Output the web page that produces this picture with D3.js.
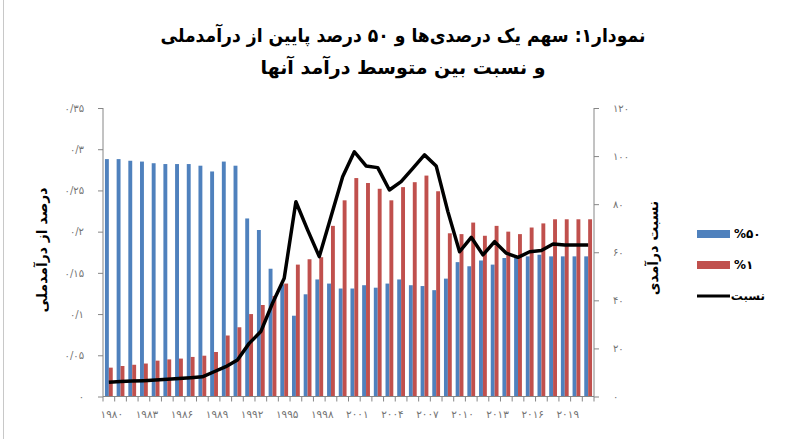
<!DOCTYPE html>
<html>
<head>
<meta charset="utf-8">
<script src="https://cdn.jsdelivr.net/npm/d3@7"></script>
<style>
  body { margin: 0; background: #fff; }
  text { font-family: "DejaVu Sans", sans-serif; }
</style>
</head>
<body>
<div id="chart"></div>
<script>
// categories
const years = [1980,1981,1982,1983,1984,1985,1986,1987,1988,1989,
  1990,1991,1992,1993,1994,1995,1996,1997,1998,1999,
  2000,2001,2002,2003,2004,2005,2006,2007,2008,2009,
  2010,2011,2012,2013,2014,2015,2016,2017,2018,2019,2020,2021];

// share of bottom 50%
const share50 = [0.288,0.288,0.286,0.285,0.283,0.282,0.282,0.282,0.280,0.273,
  0.285,0.280,0.216,0.202,0.155,0.136,0.098,0.124,0.142,0.137,
  0.131,0.131,0.135,0.132,0.137,0.142,0.135,0.134,0.129,0.143,
  0.163,0.158,0.165,0.160,0.168,0.168,0.170,0.172,0.170,0.170,0.170,0.170];

// share of top 1%
const share1 = [0.035,0.037,0.0385,0.040,0.0435,0.045,0.046,0.048,0.0495,0.054,
  0.074,0.084,0.100,0.111,0.122,0.137,0.160,0.1665,0.169,0.207,
  0.238,0.265,0.259,0.252,0.238,0.254,0.260,0.268,0.249,0.198,
  0.197,0.211,0.195,0.207,0.200,0.197,0.205,0.210,0.215,0.215,0.215,0.215];

// ratio of average incomes (right axis)
const ratio = [5.9,6.2,6.4,6.6,6.9,7.2,7.5,7.8,8.2,10.3,
  12.4,15.2,22.1,27,38.8,49.2,81,69.3,58.2,74.8,
  91.4,101.8,95.9,95.2,85.9,89.4,94.9,100.5,95.9,76.9,
  60.2,66.2,58.9,64.4,59.6,57.9,60.2,60.7,63.4,63,63,63];

const leftTicks = [0,0.05,0.1,0.15,0.2,0.25,0.3,0.35];
const rightTicks = [0,20,40,60,80,100,120];
const labelYears = [1980,1983,1986,1989,1992,1995,1998,2001,2004,2007,2010,2013,2016,2019];

const titleLines = ["نمودار۱: سهم یک درصدی‌ها و ۵۰ درصد پایین از درآمدملی", "و نسبت بین متوسط درآمد آنها"];
const seriesNames = ["%۵۰", "%۱", "نسبت"];
const colors = ["#4f81bd", "#c0504d", "#000"];

const fa = s => String(s).replace(/[0-9]/g, d => "۰۱۲۳۴۵۶۷۸۹"[d]).replace(".", "/");

let width = 797, height = 439;
let pLeft = 103, pRight = 594, pTop = 108, pBottom = 396.5;

let svg = d3.select("#chart").append("svg")
  .attr("width", width)
  .attr("height", height);

svg.append("line")
  .attr("x1", 3.5).attr("x2", 3.5).attr("y1", 0).attr("y2", height)
  .attr("stroke", "#c8c8c8");

let x = d3.scaleBand().domain(years).range([pLeft, pRight]).paddingInner(1/3).paddingOuter(1/6);
let xs = d3.scaleBand().domain([0, 1]).range([0, x.bandwidth()]);
let y = d3.scaleLinear().domain([0, 0.35]).range([pBottom, pTop]);
let y2 = d3.scaleLinear().domain([0, 120]).range([pBottom, pTop]);

// title
let tl = svg.selectAll(".title")
  .data(titleLines)
  .enter().append("text")
  .attr("x", 403)
  .attr("y", (d, i) => 42 + i * 32)
  .attr("text-anchor", "middle")
  .attr("direction", "rtl")
  .attr("font-size", 19)
  .attr("font-weight", "bold")
  .text(d => d);
tl.filter((d, i) => i === 0)
  .attr("textLength", 485)
  .attr("lengthAdjust", "spacingAndGlyphs");

// bars
let groups = svg.selectAll(".yr")
  .data(years)
  .enter().append("g")
  .attr("transform", d => `translate(${x(d)},0)`);

groups.append("rect")
  .attr("x", xs(0))
  .attr("width", xs.bandwidth())
  .attr("y", (d, i) => y(share50[i]))
  .attr("height", (d, i) => pBottom - y(share50[i]))
  .attr("fill", colors[0]);

groups.append("rect")
  .attr("x", xs(1))
  .attr("width", xs.bandwidth())
  .attr("y", (d, i) => y(share1[i]))
  .attr("height", (d, i) => pBottom - y(share1[i]))
  .attr("fill", colors[1]);

// ratio line
let line = d3.line()
  .x((d, i) => x(years[i]) + x.bandwidth() / 2)
  .y(d => y2(d));

svg.append("path")
  .datum(ratio)
  .attr("d", line)
  .attr("fill", "none")
  .attr("stroke", colors[2])
  .attr("stroke-width", 3.5)
  .attr("stroke-linejoin", "round");

// axes
let axisColor = "#868686";

let gl = svg.append("g")
  .attr("transform", `translate(${pLeft},0)`)
  .call(d3.axisLeft(y).tickValues(leftTicks).tickSize(5).tickFormat(d => fa(+d.toFixed(2))));
let gr = svg.append("g")
  .attr("transform", `translate(${pRight},0)`)
  .call(d3.axisRight(y2).tickValues(rightTicks).tickSize(5).tickFormat(d => fa(d)));

[gl, gr].forEach(g => {
  g.select(".domain").attr("stroke", axisColor).attr("d", `M0,${pTop}V${pBottom}`);
  g.selectAll(".tick line").attr("stroke", axisColor);
  g.selectAll(".tick text")
    .attr("fill", "#737373")
    .attr("font-size", 10)
    .attr("font-family", "DejaVu Sans")
    .attr("direction", "ltr");
});
gl.selectAll(".tick text").attr("x", -19);
gr.selectAll(".tick text").attr("x", 19);

// x axis
let gx = svg.append("g");
gx.append("line")
  .attr("x1", pLeft).attr("x2", pRight)
  .attr("y1", pBottom).attr("y2", pBottom)
  .attr("stroke", axisColor);
gx.selectAll(".xt")
  .data(years.concat([null]))
  .enter().append("line")
  .attr("x1", (d, i) => pLeft + i * x.step())
  .attr("x2", (d, i) => pLeft + i * x.step())
  .attr("y1", pBottom)
  .attr("y2", pBottom + 5)
  .attr("stroke", axisColor);
gx.selectAll(".xl")
  .data(labelYears)
  .enter().append("text")
  .attr("x", d => x(d) + x.bandwidth() / 2 + 3)
  .attr("y", pBottom + 21)
  .attr("text-anchor", "middle")
  .attr("fill", "#737373")
  .attr("font-size", 10.5)
  .text(d => fa(d));

// axis titles
svg.append("text")
  .attr("transform", "translate(47,250) rotate(-90)")
  .attr("text-anchor", "middle")
  .attr("direction", "rtl")
  .attr("font-size", 14)
  .attr("font-weight", "bold")
  .text("درصد از درآمدملی");

svg.append("text")
  .attr("transform", "translate(658,248) rotate(-90)")
  .attr("text-anchor", "middle")
  .attr("direction", "rtl")
  .attr("font-size", 14)
  .attr("font-weight", "bold")
  .text("نسبت درآمدی");

// legend
let lg = svg.selectAll(".lg")
  .data(seriesNames)
  .enter().append("g")
  .attr("transform", (d, i) => `translate(697,${234 + i * 31})`);

lg.append("rect")
  .attr("y", (d, i) => i < 2 ? -4 : -1.5)
  .attr("width", 33)
  .attr("height", (d, i) => i < 2 ? 8 : 3)
  .attr("fill", (d, i) => colors[i]);

lg.append("text")
  .attr("x", (d, i) => i < 2 ? 37 : 68)
  .attr("y", 4)
  .attr("font-size", 12)
  .attr("font-weight", "bold")
  .attr("direction", (d, i) => i < 2 ? "ltr" : "rtl")
  .attr("text-anchor", "start")
  .text(d => d);
</script>
</body>
</html>
